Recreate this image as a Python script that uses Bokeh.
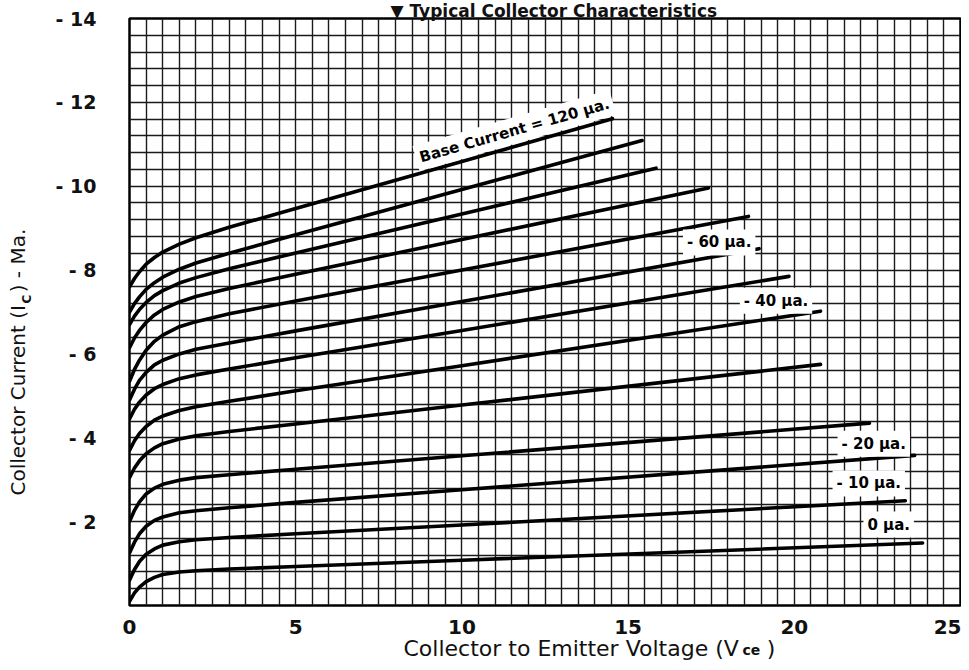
from bokeh.plotting import figure
from bokeh.models import Range1d, Label, Title, SingleIntervalTicker, FixedTicker
from bokeh.embed import file_html
from bokeh.resources import INLINE

# ---- data ----
base_current_ua = [120, 110, 100, 90, 80, 70, 60, 50, 40, 30, 20, 10, 0]
vce_knee = [0, 0.15, 0.3, 0.5, 0.75, 1.0, 1.5, 2.0, 3.0, 5.0, 10.0]
vce_end = [14.53, 15.42, 15.84, 17.42, 18.62, 18.94, 19.84, 20.79, 20.79, 22.26, 23.62, 23.34, 23.86]

ic_120 = [7.60, 7.80, 7.96, 8.14, 8.30, 8.43, 8.62, 8.77, 9.02, 9.47, 10.59, 11.61]
ic_110 = [7.00, 7.20, 7.36, 7.54, 7.70, 7.83, 8.02, 8.17, 8.40, 8.84, 9.92, 11.09]
ic_100 = [6.70, 6.90, 7.06, 7.23, 7.39, 7.51, 7.69, 7.82, 8.03, 8.41, 9.34, 10.43]
ic_90 = [6.15, 6.38, 6.56, 6.75, 6.93, 7.06, 7.24, 7.37, 7.56, 7.90, 8.73, 9.96]
ic_80 = [5.35, 5.63, 5.85, 6.09, 6.30, 6.45, 6.65, 6.77, 6.96, 7.26, 8.00, 9.28]
ic_70 = [4.90, 5.16, 5.37, 5.56, 5.74, 5.85, 6.00, 6.11, 6.26, 6.55, 7.25, 8.51]
ic_60 = [4.45, 4.68, 4.85, 5.02, 5.17, 5.27, 5.41, 5.50, 5.64, 5.91, 6.56, 7.85]
ic_50 = [3.70, 3.93, 4.10, 4.27, 4.42, 4.52, 4.65, 4.74, 4.87, 5.12, 5.72, 7.02]
ic_40 = [3.05, 3.28, 3.45, 3.62, 3.76, 3.86, 3.97, 4.05, 4.15, 4.33, 4.78, 5.75]
ic_30 = [2.00, 2.27, 2.47, 2.66, 2.80, 2.89, 2.99, 3.05, 3.12, 3.25, 3.57, 4.35]
ic_20 = [1.25, 1.51, 1.71, 1.89, 2.03, 2.11, 2.21, 2.26, 2.33, 2.46, 2.76, 3.58]
ic_10 = [0.60, 0.86, 1.05, 1.22, 1.35, 1.44, 1.52, 1.57, 1.62, 1.71, 1.92, 2.50]
ic_0 = [0.10, 0.30, 0.44, 0.57, 0.67, 0.74, 0.80, 0.83, 0.87, 0.93, 1.08, 1.49]

curves = [ic_120, ic_110, ic_100, ic_90, ic_80, ic_70, ic_60, ic_50, ic_40, ic_30, ic_20, ic_10, ic_0]

x_ticks = [0, 5, 10, 15, 20, 25]
y_ticks = [2, 4, 6, 8, 10, 12, 14]
y_tick_labels = ["- 2", "- 4", "- 6", "- 8", "- 10", "- 12", "- 14"]

# curve labels: (text, Vce, Ic)
curve_labels = [
    ("- 60 \u03bca.", 17.74, 8.66),
    ("- 40 \u03bca.", 19.45, 7.27),
    ("- 20 \u03bca.", 22.39, 3.86),
    ("- 10 \u03bca.", 22.24, 2.91),
    ("0 \u03bca.", 22.84, 1.93),
]
top_label = ("Base Current = 120 \u03bca.", 11.58, 11.33)

chart_title = "\u25bc Typical Collector Characteristics"
x_title = "Collector to Emitter Voltage (V\u00a0\u00a0\u00a0\u00a0)"
x_sub = "ce"
y_title = "Collector Current (I\u00a0\u00a0) - Ma."
y_sub = "C"

FONT = "DejaVu Sans"
INK = "#111111"

p = figure(frame_width=831, frame_height=587,
           x_range=Range1d(0, 25), y_range=Range1d(0, 14),
           output_backend="svg", toolbar_location=None,
           min_border_left=129, min_border_right=1,
           min_border_top=18, min_border_bottom=57)
p.background_fill_color = "white"
p.border_fill_color = "white"
p.outline_line_color = "black"
p.outline_line_width = 2.5

# grid
p.xgrid.ticker = SingleIntervalTicker(interval=0.5, num_minor_ticks=0)
p.ygrid.ticker = SingleIntervalTicker(interval=0.4, num_minor_ticks=0)
for g in (p.xgrid, p.ygrid):
    g.grid_line_color = "#1a1a1a"
    g.grid_line_width = 1.4
    g.grid_line_alpha = 1.0

# axes
p.xaxis.ticker = FixedTicker(ticks=x_ticks)
p.yaxis.ticker = FixedTicker(ticks=y_ticks)
p.yaxis.major_label_overrides = {t: l for t, l in zip(y_ticks, y_tick_labels)}
for ax in (p.xaxis, p.yaxis):
    ax.axis_line_color = None
    ax.major_tick_line_color = None
    ax.minor_tick_line_color = None
    ax.major_tick_out = 0
    ax.major_tick_in = 0
    ax.minor_tick_out = 0
    ax.major_label_text_font = FONT
    ax.major_label_text_font_style = "bold"
    ax.major_label_text_color = INK
p.xaxis.major_label_text_font_size = "20px"
p.yaxis.major_label_text_font_size = "19px"
p.xaxis.major_label_standoff = 14
p.yaxis.major_label_standoff = 33

# curves
for ic, vend in zip(curves, vce_end):
    xs = vce_knee + [vend]
    p.line(xs, ic, line_color="black", line_width=3.6, line_cap="round", line_join="round")

# curve labels
for txt, vx, iy in curve_labels:
    p.add_layout(Label(x=vx, y=iy, text=txt, text_align="center", text_baseline="middle",
                       text_font=FONT, text_font_style="bold", text_font_size="15px",
                       text_color="black", background_fill_color="white", padding=4))
p.add_layout(Label(x=top_label[1], y=top_label[2], text=top_label[0], angle=0.28,
                   text_align="center", text_baseline="middle",
                   text_font=FONT, text_font_style="bold", text_font_size="15px",
                   text_color="black", background_fill_color="white", padding=4))

# x-axis title (main line + subscript line)
p.add_layout(Title(text=x_title, align="left", offset=274, vertical_align="middle", standoff=-4,
                   text_font=FONT, text_font_size="22px", text_font_style="normal",
                   text_color=INK), "below")
p.add_layout(Title(text=x_sub, align="left", offset=613, vertical_align="top", standoff=-36,
                   text_font=FONT, text_font_size="14px", text_font_style="bold",
                   text_color=INK), "below")

# y-axis title (subscript row nearer the frame, main row outside it)
p.add_layout(Title(text=y_sub, align="left", offset=302, vertical_align="middle", standoff=36,
                   text_font=FONT, text_font_size="12px", text_font_style="bold",
                   text_color=INK), "left")
p.add_layout(Title(text=y_title, align="left", offset=110, vertical_align="bottom", standoff=-58,
                   text_font=FONT, text_font_size="20px", text_font_style="normal",
                   text_color=INK), "left")

# chart title above the grid
p.add_layout(Title(text=chart_title, align="left", offset=261, vertical_align="bottom", standoff=-4,
                   text_font=FONT, text_font_size="17px", text_font_style="bold",
                   text_color=INK), "above")

open("out.html", "w").write(file_html(p, INLINE))
